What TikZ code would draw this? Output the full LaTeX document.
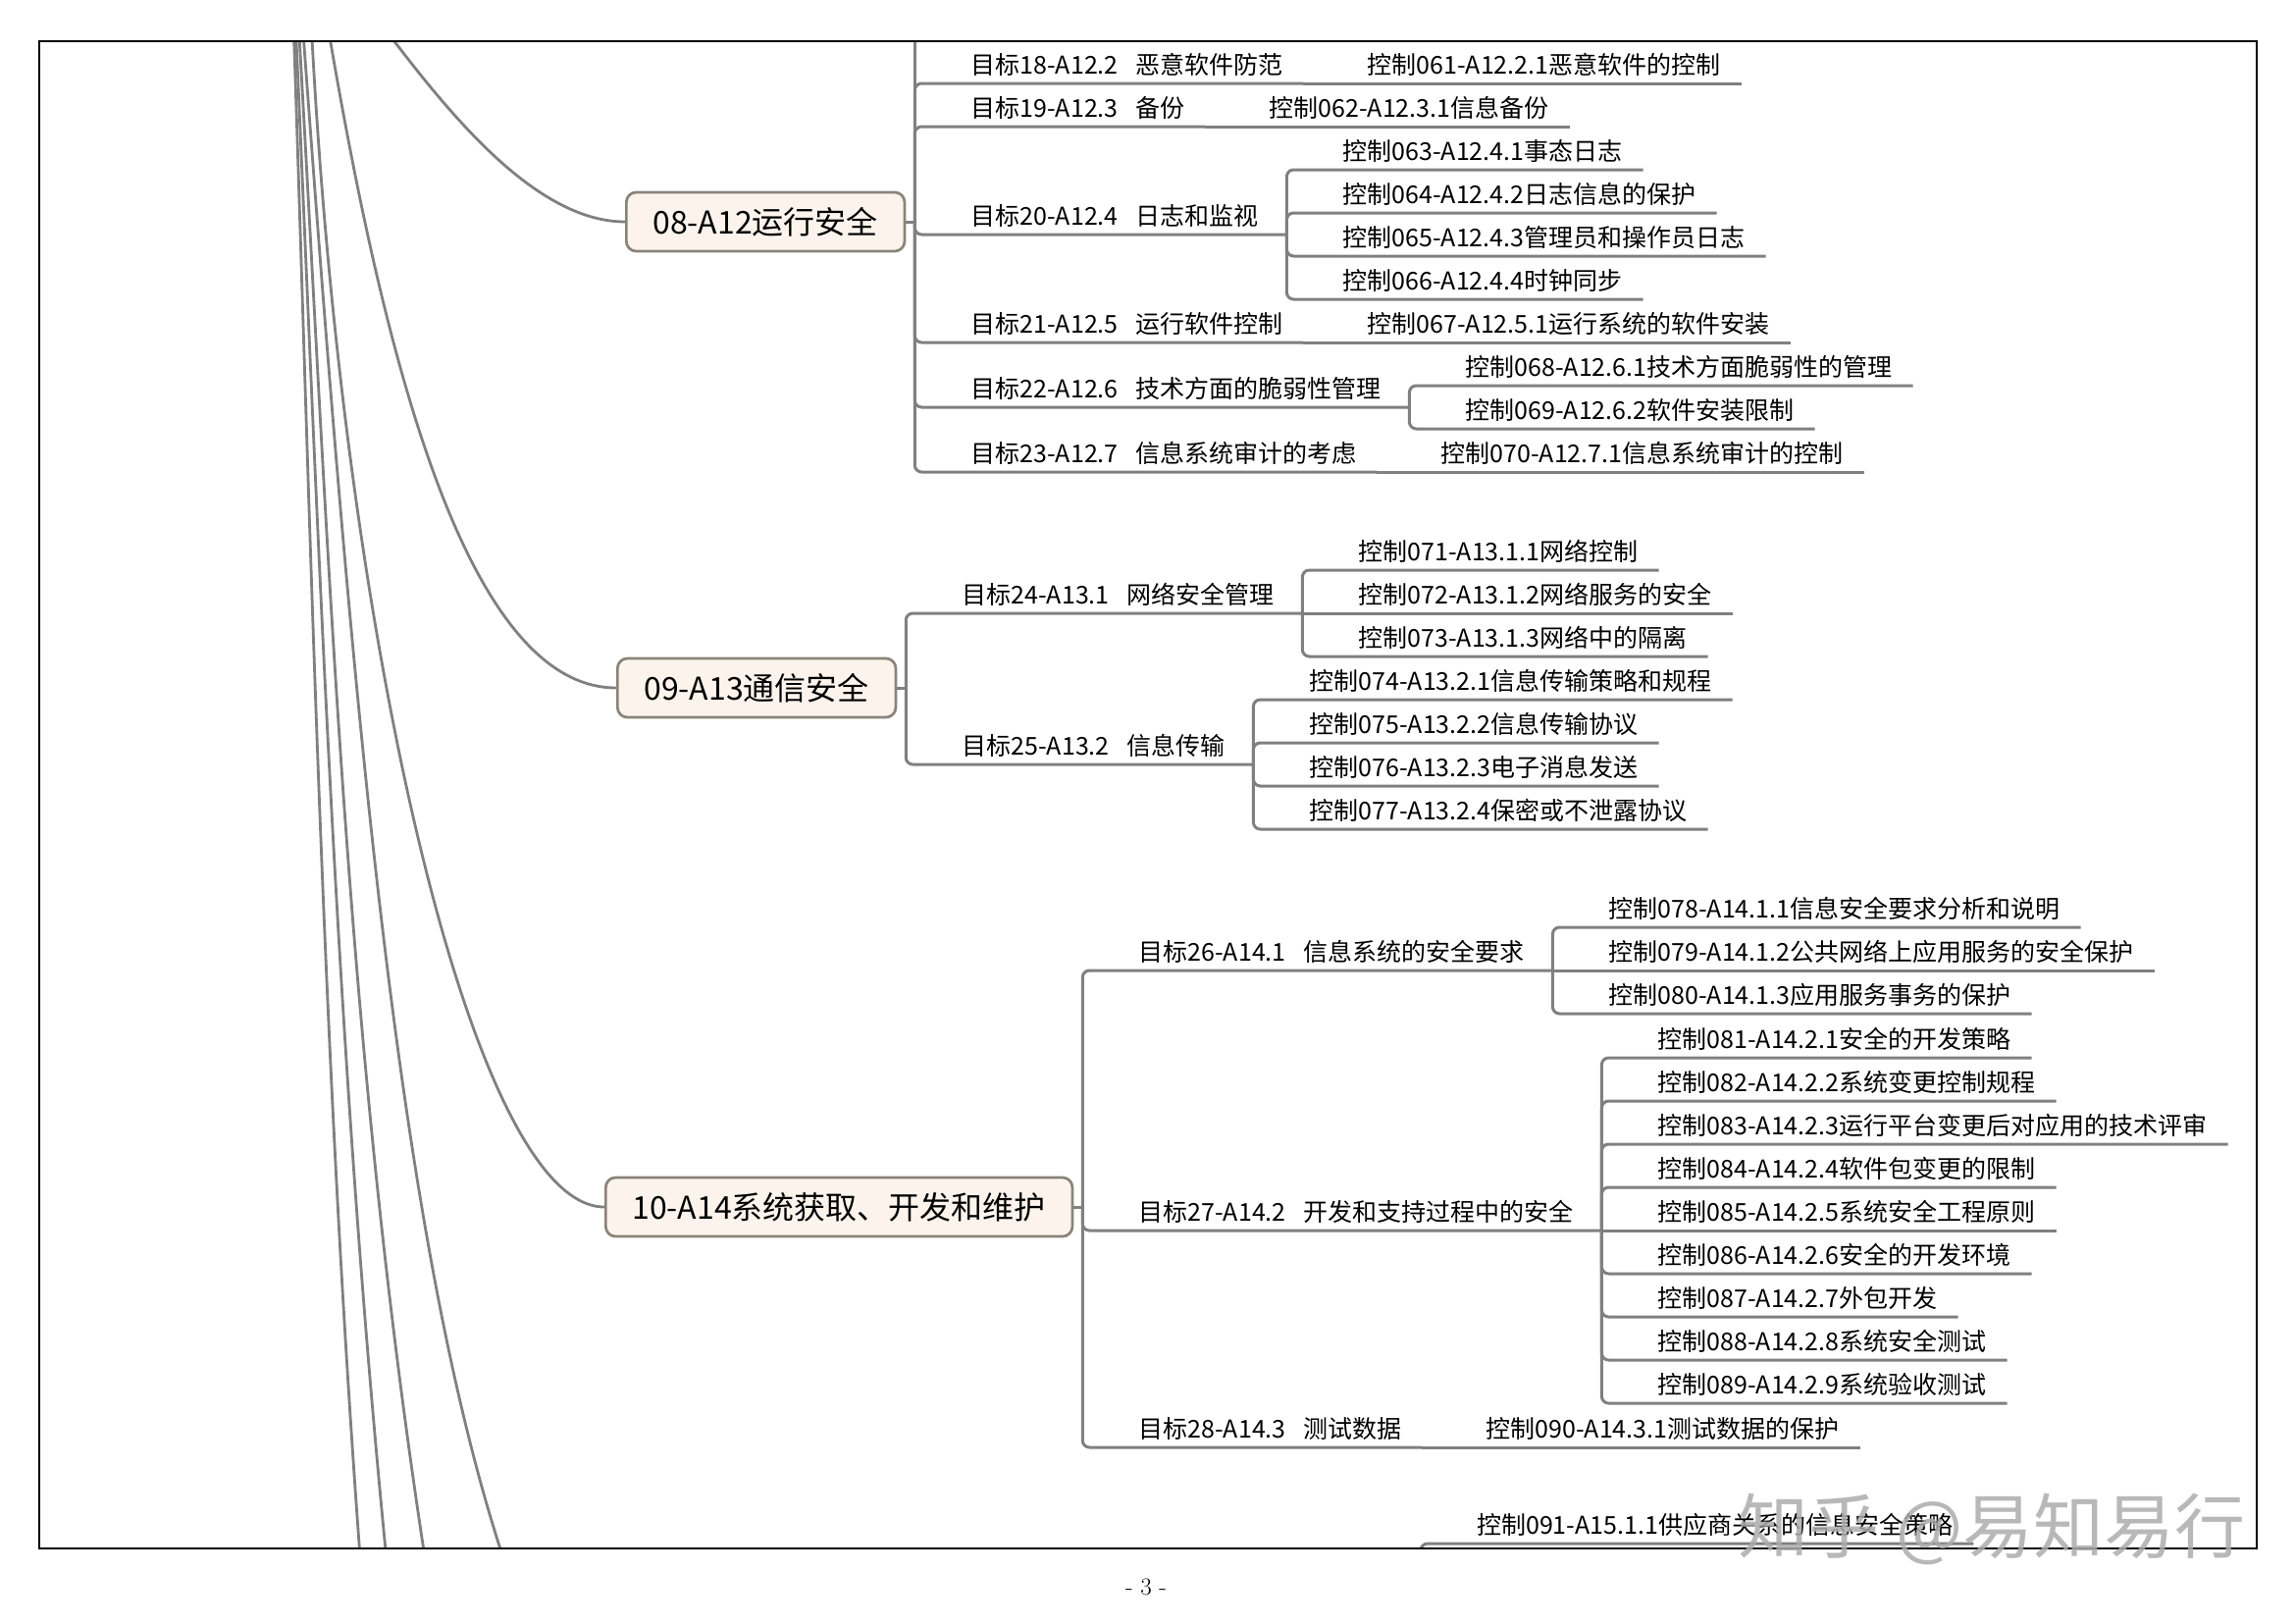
\documentclass[tikz,border=0pt]{standalone}
\usepackage{fontspec}
\usepackage{tikz}
\usetikzlibrary{positioning}
\newfontfamily\cjk{Noto Sans CJK SC}
\definecolor{conngray}{RGB}{128,128,128}
\definecolor{topicline}{RGB}{138,131,121}
\definecolor{topicfill}{RGB}{252,244,236}
\definecolor{markgray}{RGB}{172,172,172}
\newcommand{\tgap}{\hspace{0.7em}}

\begin{document}
\begin{tikzpicture}[
    x=1pt, y=-1pt,
    font=\cjk\fontsize{25}{30}\selectfont,
    topic/.style={draw=topicline, fill=topicfill, line width=2.7pt, rounded corners=10pt,
                  anchor=west, minimum height=60pt, inner xsep=27pt,
                  font=\cjk\fontsize{32}{38}\selectfont},
    leaf/.style={anchor=south west, inner xsep=21pt, inner ysep=4pt,
                 text height=20pt, text depth=5pt},
    conn/.style={draw=conngray, line width=3pt, rounded corners=7pt},
    spoke/.style={draw=conngray, line width=2.8pt}
]
\useasboundingbox (0,0) rectangle (2339,1654);
\begin{scope}
\clip (40,42) rectangle (2300,1578);
\coordinate (src08) at (385,20);
\coordinate (src09) at (333,20);
\coordinate (src10) at (317,20);
\coordinate (src11) at (299,20);
\coordinate (dst11) at (368,1600);
\coordinate (src12) at (301,20);
\coordinate (dst12) at (395,1600);
\coordinate (src13) at (304,20);
\coordinate (dst13) at (435,1600);
\coordinate (src14) at (308,20);
\coordinate (dst14) at (517,1600);

\node[topic] (b08) at (637,226) {08-A12运行安全};
\node[topic] (b09) at (628,701) {09-A13通信安全};
\node[topic] (b10) at (616,1230) {10-A14系统获取、开发和维护};

\draw[spoke] (src08) .. controls (446,100) and (540,226) .. (b08.west);
\draw[spoke] (src09) .. controls (387,340) and (470,701) .. (b09.west);
\draw[spoke] (src10) .. controls (348,642) and (480,1230) .. (b10.west);
\draw[spoke] (src11) .. controls (317,554) and (328,1066) .. (dst11);
\draw[spoke] (src12) .. controls (325,554) and (342,1066) .. (dst12);
\draw[spoke] (src13) .. controls (335,554) and (352,1066) .. (dst13);
\draw[spoke] (src14) .. controls (361,742) and (408,1278) .. (dst14);

\coordinate (k08) at ([xshift=9pt]b08.east);
\coordinate (up08) at (k08 |- 0,20);
\node[leaf, xshift=36pt] (t18) at (k08 |- 0,85) {目标18-A12.2\tgap 恶意软件防范};
\node[leaf, right=44pt of t18] (c061) {控制061-A12.2.1恶意软件的控制};
\node[leaf, xshift=36pt] (t19) at (k08 |- 0,129) {目标19-A12.3\tgap 备份};
\node[leaf, right=44pt of t19] (c062) {控制062-A12.3.1信息备份};
\node[leaf, xshift=36pt] (t20) at (k08 |- 0,239) {目标20-A12.4\tgap 日志和监视};
\coordinate (k20) at ([xshift=8pt]t20.south east);
\node[leaf, xshift=36pt] (c063) at (k20 |- 0,173) {控制063-A12.4.1事态日志};
\node[leaf, xshift=36pt] (c064) at (k20 |- 0,217) {控制064-A12.4.2日志信息的保护};
\node[leaf, xshift=36pt] (c065) at (k20 |- 0,261) {控制065-A12.4.3管理员和操作员日志};
\node[leaf, xshift=36pt] (c066) at (k20 |- 0,305) {控制066-A12.4.4时钟同步};
\node[leaf, xshift=36pt] (t21) at (k08 |- 0,349) {目标21-A12.5\tgap 运行软件控制};
\node[leaf, right=44pt of t21] (c067) {控制067-A12.5.1运行系统的软件安装};
\node[leaf, xshift=36pt] (t22) at (k08 |- 0,415) {目标22-A12.6\tgap 技术方面的脆弱性管理};
\coordinate (k22) at ([xshift=8pt]t22.south east);
\node[leaf, xshift=36pt] (c068) at (k22 |- 0,393) {控制068-A12.6.1技术方面脆弱性的管理};
\node[leaf, xshift=36pt] (c069) at (k22 |- 0,437) {控制069-A12.6.2软件安装限制};
\node[leaf, xshift=36pt] (t23) at (k08 |- 0,481) {目标23-A12.7\tgap 信息系统审计的考虑};
\node[leaf, right=44pt of t23] (c070) {控制070-A12.7.1信息系统审计的控制};

\draw[conn] (b08.east) -- (k08);
\draw[conn] (k08) -- (up08);
\draw[conn] (k08) |- (t18.south west) -- (t18.south east);
\draw[conn] (t18.south east) -- (c061.south west) -- (c061.south east);
\draw[conn] (k08) |- (t19.south west) -- (t19.south east);
\draw[conn] (t19.south east) -- (c062.south west) -- (c062.south east);
\draw[conn] (k08) |- (t20.south west) -- (t20.south east) -- (k20);
\draw[conn] (k20) |- (c063.south west) -- (c063.south east);
\draw[conn] (k20) |- (c064.south west) -- (c064.south east);
\draw[conn] (k20) |- (c065.south west) -- (c065.south east);
\draw[conn] (k20) |- (c066.south west) -- (c066.south east);
\draw[conn] (k08) |- (t21.south west) -- (t21.south east);
\draw[conn] (t21.south east) -- (c067.south west) -- (c067.south east);
\draw[conn] (k08) |- (t22.south west) -- (t22.south east) -- (k22);
\draw[conn] (k22) |- (c068.south west) -- (c068.south east);
\draw[conn] (k22) |- (c069.south west) -- (c069.south east);
\draw[conn] (k08) |- (t23.south west) -- (t23.south east);
\draw[conn] (t23.south east) -- (c070.south west) -- (c070.south east);

\coordinate (k09) at ([xshift=9pt]b09.east);
\node[leaf, xshift=36pt] (t24) at (k09 |- 0,625) {目标24-A13.1\tgap 网络安全管理};
\coordinate (k24) at ([xshift=8pt]t24.south east);
\node[leaf, xshift=36pt] (c071) at (k24 |- 0,581) {控制071-A13.1.1网络控制};
\node[leaf, xshift=36pt] (c072) at (k24 |- 0,625) {控制072-A13.1.2网络服务的安全};
\node[leaf, xshift=36pt] (c073) at (k24 |- 0,669) {控制073-A13.1.3网络中的隔离};
\node[leaf, xshift=36pt] (t25) at (k09 |- 0,779) {目标25-A13.2\tgap 信息传输};
\coordinate (k25) at ([xshift=8pt]t25.south east);
\node[leaf, xshift=36pt] (c074) at (k25 |- 0,713) {控制074-A13.2.1信息传输策略和规程};
\node[leaf, xshift=36pt] (c075) at (k25 |- 0,757) {控制075-A13.2.2信息传输协议};
\node[leaf, xshift=36pt] (c076) at (k25 |- 0,801) {控制076-A13.2.3电子消息发送};
\node[leaf, xshift=36pt] (c077) at (k25 |- 0,845) {控制077-A13.2.4保密或不泄露协议};

\draw[conn] (b09.east) -- (k09);
\draw[conn] (k09) |- (t24.south west) -- (t24.south east) -- (k24);
\draw[conn] (k24) |- (c071.south west) -- (c071.south east);
\draw[conn] (k24) -- (c072.south west) -- (c072.south east);
\draw[conn] (k24) |- (c073.south west) -- (c073.south east);
\draw[conn] (k09) |- (t25.south west) -- (t25.south east) -- (k25);
\draw[conn] (k25) |- (c074.south west) -- (c074.south east);
\draw[conn] (k25) |- (c075.south west) -- (c075.south east);
\draw[conn] (k25) |- (c076.south west) -- (c076.south east);
\draw[conn] (k25) |- (c077.south west) -- (c077.south east);

\coordinate (k10) at ([xshift=9pt]b10.east);
\node[leaf, xshift=36pt] (t26) at (k10 |- 0,989) {目标26-A14.1\tgap 信息系统的安全要求};
\coordinate (k26) at ([xshift=8pt]t26.south east);
\node[leaf, xshift=36pt] (c078) at (k26 |- 0,945) {控制078-A14.1.1信息安全要求分析和说明};
\node[leaf, xshift=36pt] (c079) at (k26 |- 0,989) {控制079-A14.1.2公共网络上应用服务的安全保护};
\node[leaf, xshift=36pt] (c080) at (k26 |- 0,1033) {控制080-A14.1.3应用服务事务的保护};
\node[leaf, xshift=36pt] (t27) at (k10 |- 0,1254) {目标27-A14.2\tgap 开发和支持过程中的安全};
\coordinate (k27) at ([xshift=8pt]t27.south east);
\node[leaf, xshift=36pt] (c081) at (k27 |- 0,1078) {控制081-A14.2.1安全的开发策略};
\node[leaf, xshift=36pt] (c082) at (k27 |- 0,1122) {控制082-A14.2.2系统变更控制规程};
\node[leaf, xshift=36pt] (c083) at (k27 |- 0,1166) {控制083-A14.2.3运行平台变更后对应用的技术评审};
\node[leaf, xshift=36pt] (c084) at (k27 |- 0,1210) {控制084-A14.2.4软件包变更的限制};
\node[leaf, xshift=36pt] (c085) at (k27 |- 0,1254) {控制085-A14.2.5系统安全工程原则};
\node[leaf, xshift=36pt] (c086) at (k27 |- 0,1298) {控制086-A14.2.6安全的开发环境};
\node[leaf, xshift=36pt] (c087) at (k27 |- 0,1342) {控制087-A14.2.7外包开发};
\node[leaf, xshift=36pt] (c088) at (k27 |- 0,1386) {控制088-A14.2.8系统安全测试};
\node[leaf, xshift=36pt] (c089) at (k27 |- 0,1430) {控制089-A14.2.9系统验收测试};
\node[leaf, xshift=36pt] (t28) at (k10 |- 0,1475) {目标28-A14.3\tgap 测试数据};
\node[leaf, right=44pt of t28] (c090) {控制090-A14.3.1测试数据的保护};

\draw[conn] (b10.east) -- (k10);
\draw[conn] (k10) |- (t26.south west) -- (t26.south east) -- (k26);
\draw[conn] (k26) |- (c078.south west) -- (c078.south east);
\draw[conn] (k26) -- (c079.south west) -- (c079.south east);
\draw[conn] (k26) |- (c080.south west) -- (c080.south east);
\draw[conn] (k10) |- (t27.south west) -- (t27.south east) -- (k27);
\draw[conn] (k27) |- (c081.south west) -- (c081.south east);
\draw[conn] (k27) |- (c082.south west) -- (c082.south east);
\draw[conn] (k27) |- (c083.south west) -- (c083.south east);
\draw[conn] (k27) |- (c084.south west) -- (c084.south east);
\draw[conn] (k27) -- (c085.south west) -- (c085.south east);
\draw[conn] (k27) |- (c086.south west) -- (c086.south east);
\draw[conn] (k27) |- (c087.south west) -- (c087.south east);
\draw[conn] (k27) |- (c088.south west) -- (c088.south east);
\draw[conn] (k27) |- (c089.south west) -- (c089.south east);
\draw[conn] (k10) |- (t28.south west) -- (t28.south east);
\draw[conn] (t28.south east) -- (c090.south west) -- (c090.south east);

\coordinate (dn15) at (1448,1600);
\node[leaf, xshift=36pt] (c091) at (dn15 |- 0,1573) {控制091-A15.1.1供应商关系的信息安全策略};
\draw[conn] (dn15) |- (c091.south west) -- (c091.south east);
\end{scope}
\draw[line width=1.6pt] (40,42) rectangle (2300,1578);
\node[font=\rmfamily\fontsize{25}{30}\selectfont] (pg) at (1168,1617) {- 3 -};
\node[font=\cjk\fontsize{72}{80}\selectfont, text=markgray, opacity=0.85] (mark) at (2030,1558) {知乎 @易知易行};
\end{tikzpicture}
\end{document}
